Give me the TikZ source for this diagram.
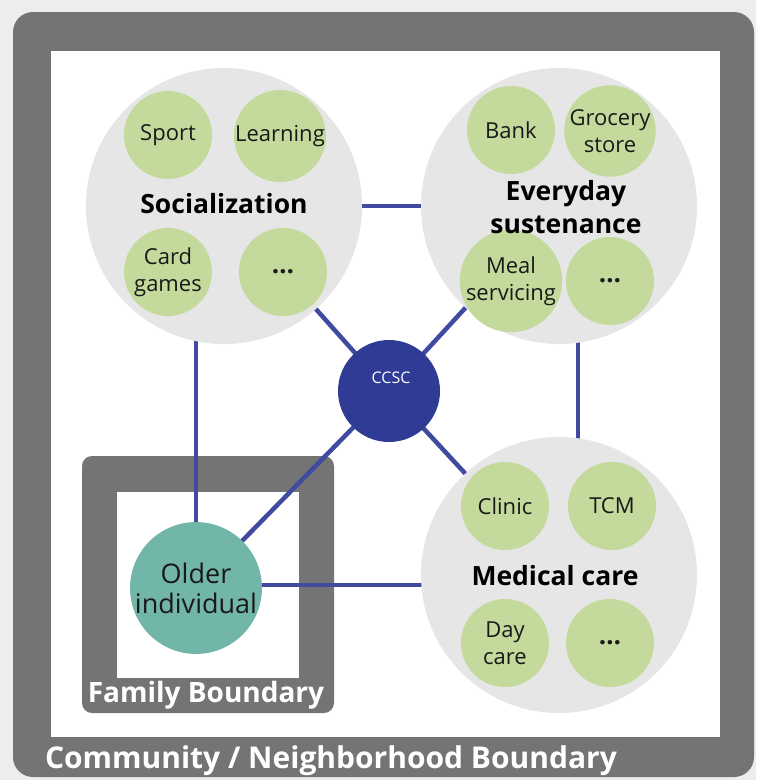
\documentclass[tikz,border=0pt]{standalone}
\usepackage{fontspec}
\setmainfont{Open Sans}
\definecolor{bgc}{HTML}{ECEEEC}
\definecolor{framegray}{HTML}{747474}
\definecolor{biggray}{HTML}{E6E6E6}
\definecolor{leaf}{HTML}{C4DA9C}
\definecolor{teal}{HTML}{72B6A9}
\definecolor{navy}{HTML}{2F3B95}
\definecolor{linkblue}{HTML}{3F4AA0}
\pgfdeclarelayer{frames}
\pgfdeclarelayer{lines}
\pgfsetlayers{frames,lines,main}
\begin{document}
\begin{tikzpicture}[x=1pt,y=-1pt,
  bigc/.style={circle, fill=biggray, minimum size=276pt, inner sep=0pt},
  smallc/.style={circle, fill=leaf, minimum size=88pt, inner sep=0pt, align=center,
    font=\fontsize{22}{27}\selectfont, text=black!90},
  dotsc/.style={smallc, font=\fontsize{26}{27}\selectfont\bfseries},
  grouplabel/.style={align=center, font=\fontsize{26.5}{33}\selectfont\bfseries, text=black, anchor=base},
  boundlabel/.style={text=white, anchor=base, inner sep=0pt},
  link/.style={draw=linkblue, line width=4.5pt}]
\useasboundingbox (0,0) rectangle (756,780);
\begin{pgfonlayer}{frames}
  \fill[bgc] (0,0) rectangle (756,780);
  \fill[framegray, rounded corners=20pt] (13,12) rectangle (754,777);
  \fill[white] (51,51) rectangle (720,737);
  \fill[framegray, rounded corners=10pt] (82,456) rectangle (334,713);
  \fill[white] (117,492) rectangle (299,678);
\end{pgfonlayer}
\node[boundlabel, font=\fontsize{30}{36}\selectfont\bfseries] (comm) at (331,768) {Community / Neighborhood Boundary};
\node[boundlabel, font=\fontsize{28}{32}\selectfont\bfseries] (fam) at (206,702) {Family Boundary};

% big circles
\node[bigc] (soc) at (224,206) {};
\node[bigc] (every) at (559,206) {};
\node[bigc] (med) at (559,575) {};

% small circles
\node[smallc] (sport) at (168,135) {Sport};
\node[smallc] (learn) at (280,136) {Learning};
\node[smallc] (card) at (168,272) {Card\\games};
\node[dotsc] (sdots) at (283,272) {…};
\node[smallc] (bank) at (511,130) {Bank};
\node[smallc] (groc) at (610,131) {Grocery\\store};
\node[smallc] (meal) at (511,281) {Meal\\servicing};
\node[dotsc] (edots) at (610,281) {…};
\node[smallc] (clinic) at (505,506) {Clinic};
\node[smallc] (tcm) at (612,506) {TCM};
\node[smallc] (day) at (505,643) {Day\\care};
\node[dotsc] (mdots) at (610,643) {…};

% group labels
\node[grouplabel] (socl) at (224,213) {Socialization};
\node[grouplabel] (evl) at (566,233) {Everyday\\sustenance};
\node[grouplabel] (medl) at (555,585) {Medical care};

% center and individual
\node[circle, fill=navy, minimum size=102pt, inner sep=0pt] (ccsc) at (389,391) {};
\node[text=white, font=\fontsize{16}{18}\selectfont] (ccsctext) at (391,378) {CCSC};
\node[circle, fill=teal, minimum size=126pt, inner sep=0pt, align=center, text=black!90,
      font=\fontsize{27}{30}\selectfont] (older) at (196,588) {Older\\individual};

\begin{pgfonlayer}{lines}
  \draw[link] (soc.center) -- (every.center);
  \draw[link] (older.center) -- (older.center |- soc.center);
  \draw[link] ([xshift=19pt]every.center) -- ([xshift=19pt]med.center);
  \draw[link] ([yshift=3pt]older.center) -- ([yshift=3pt]older.center -| med.center);
  \draw[link] (ccsc.center) -- (soc.center);
  \draw[link] (ccsc.center) -- (every.center);
  \draw[link] (ccsc.center) -- (med.center);
  \draw[link] (ccsc.center) -- (older.center);
\end{pgfonlayer}
\end{tikzpicture}
\end{document}
